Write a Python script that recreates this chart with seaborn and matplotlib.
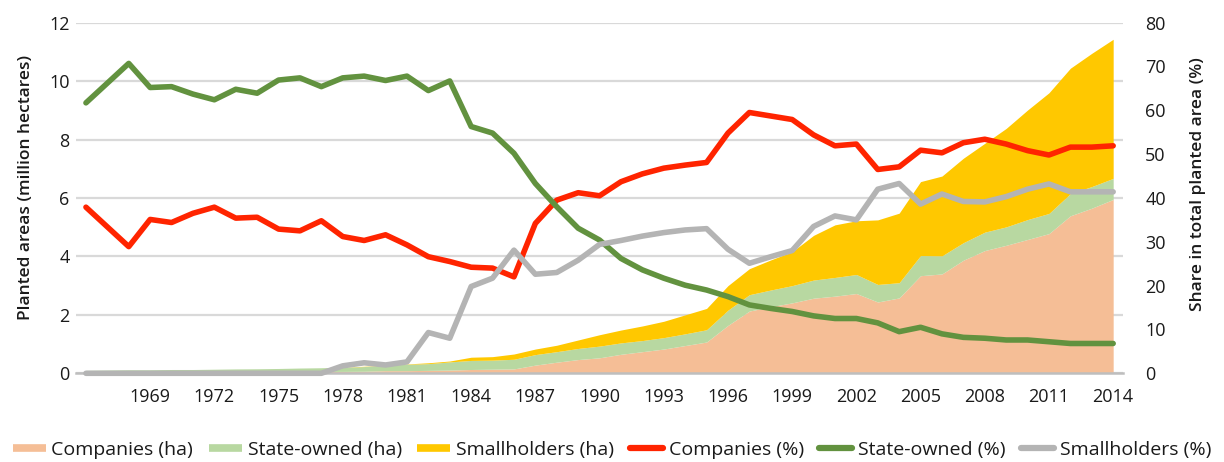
import matplotlib
matplotlib.use("Agg")
import pandas as pd
import matplotlib.pyplot as plt
import seaborn as sns
from matplotlib.lines import Line2D

# ---------------- data ----------------
years = list(range(1966, 2015))
tick_years = list(range(1969, 2015, 3))

companies_ha = [0.04, 0.04, 0.035, 0.04, 0.045, 0.05, 0.05, 0.05, 0.055, 0.055, 0.06, 0.065,
                0.065, 0.07, 0.09, 0.09, 0.10, 0.11, 0.13, 0.14, 0.15, 0.28, 0.38, 0.47,
                0.53, 0.65, 0.74, 0.83, 0.95, 1.07, 1.64, 2.13, 2.28, 2.41, 2.57, 2.64,
                2.73, 2.44, 2.58, 3.34, 3.40, 3.87, 4.20, 4.38, 4.58, 4.78, 5.39, 5.65, 5.95]
state_ha = [0.06, 0.07, 0.085, 0.08, 0.085, 0.08, 0.09, 0.10, 0.10, 0.11, 0.12, 0.125,
            0.14, 0.16, 0.19, 0.22, 0.23, 0.28, 0.31, 0.31, 0.33, 0.36, 0.36, 0.38,
            0.40, 0.39, 0.38, 0.39, 0.40, 0.42, 0.52, 0.56, 0.57, 0.59, 0.62, 0.64,
            0.65, 0.60, 0.52, 0.69, 0.62, 0.60, 0.63, 0.63, 0.68, 0.69, 0.76, 0.74, 0.72]
smallholders_ha = [0, 0, 0, 0, 0, 0, 0, 0, 0, 0, 0, 0,
                   0.005, 0.01, 0.006, 0.01, 0.03, 0.03, 0.11, 0.12, 0.18, 0.19, 0.22, 0.29,
                   0.39, 0.44, 0.50, 0.56, 0.65, 0.73, 0.84, 0.89, 1.03, 1.16, 1.53, 1.80,
                   1.84, 2.21, 2.38, 2.53, 2.73, 2.89, 3.04, 3.37, 3.75, 4.13, 4.29, 4.56, 4.76]

companies_pct = [37.9, 33.4, 28.9, 35.1, 34.4, 36.5, 37.9, 35.4, 35.6, 32.9, 32.5, 34.8,
                 31.2, 30.3, 31.6, 29.3, 26.6, 25.5, 24.2, 24.0, 22.0, 34.2, 39.5, 41.2,
                 40.5, 43.7, 45.5, 46.8, 47.5, 48.1, 54.8, 59.5, 58.7, 57.9, 54.4, 51.9,
                 52.3, 46.5, 47.1, 50.9, 50.3, 52.6, 53.4, 52.3, 50.8, 49.8, 51.6, 51.6, 51.9]
state_pct = [61.7, 66.2, 70.7, 65.2, 65.4, 63.7, 62.4, 64.8, 63.9, 66.9, 67.4, 65.4,
             67.4, 67.8, 66.8, 67.8, 64.5, 66.7, 56.3, 54.8, 50.2, 43.3, 38.0, 33.1,
             30.4, 26.2, 23.6, 21.7, 20.1, 19.0, 17.5, 15.6, 14.8, 14.1, 13.1, 12.5,
             12.5, 11.5, 9.5, 10.5, 9.0, 8.2, 8.0, 7.6, 7.6, 7.2, 6.8, 6.8, 6.8]
smallholders_pct = [0, 0, 0, 0, 0, 0, 0, 0, 0, 0, 0, 0,
                    1.7, 2.4, 1.9, 2.6, 9.3, 8.0, 19.8, 21.7, 28.1, 22.6, 23.0, 25.8,
                    29.4, 30.3, 31.3, 32.1, 32.7, 33.0, 28.3, 25.1, 26.6, 28.0, 33.5, 35.9,
                    35.0, 42.0, 43.3, 38.6, 40.9, 39.2, 39.1, 40.3, 42.0, 43.2, 41.4, 41.4, 41.4]

area_labels = ["Companies (ha)", "State-owned (ha)", "Smallholders (ha)"]
line_labels = ["Companies (%)", "State-owned (%)", "Smallholders (%)"]

# ---------------- style ----------------
area_colors = ["#F5BE96", "#B8D8A1", "#FFC800"]
line_colors = ["#FF2400", "#62923F", "#B4B4B4"]
text_color = "#1A1A1A"

sns.set_theme(style="white")
plt.rcParams['font.family'] = ['Open Sans', 'DejaVu Sans']
plt.rcParams['text.color'] = text_color
plt.rcParams['xtick.color'] = text_color
plt.rcParams['ytick.color'] = text_color

fig, ax1 = plt.subplots(figsize=(12.24, 4.62), dpi=100)
fig.subplots_adjust(left=0.062, right=0.9175, top=0.951, bottom=0.192)

# stacked areas (left axis)
ax1.stackplot(years, companies_ha, state_ha, smallholders_ha,
              colors=area_colors, linewidth=0, zorder=2)
ax1.set_ylim(0, 12)
ax1.set_yticks(range(0, 13, 2))
ax1.set_xlim(1965.53, 2014.46)
ax1.set_xticks(tick_years)
ax1.set_xticklabels([str(y) for y in tick_years])
ax1.grid(axis='y', color='#D9D9D9', linewidth=1.6)
ax1.grid(axis='x', visible=False)
ax1.set_axisbelow(True)
for s in ["left", "right", "top"]:
    ax1.spines[s].set_visible(False)
ax1.spines["bottom"].set_color("#BEBEBE")
ax1.spines["bottom"].set_linewidth(1.8)
ax1.tick_params(axis='y', length=0, pad=4.5, labelsize=13)
ax1.tick_params(axis='x', length=0, pad=10.5, labelsize=13)
ax1.set_xlabel("")
ax1.set_ylabel("Planted areas (million hectares)", fontsize=12.5,
               fontweight='semibold', color=text_color)
ax1.yaxis.set_label_coords(-0.040, 0.531)

# share lines (right axis)
ax2 = ax1.twinx()
df = pd.DataFrame({
    "year": years * 3,
    "share": companies_pct + state_pct + smallholders_pct,
    "series": [line_labels[0]] * len(years) + [line_labels[1]] * len(years)
              + [line_labels[2]] * len(years),
})
sns.lineplot(data=df, x="year", y="share", hue="series", hue_order=line_labels,
             palette=line_colors, linewidth=4.0, ax=ax2, legend=False,
             solid_capstyle='round', solid_joinstyle='round', clip_on=False)
ax2.set_ylim(0, 80)
ax2.set_yticks(range(0, 81, 10))
ax2.grid(False)
for s in ["left", "right", "top", "bottom"]:
    ax2.spines[s].set_visible(False)
ax2.tick_params(axis='y', length=0, pad=16, labelsize=13)
ax2.set_xlabel("")
ax2.set_ylabel("Share in total planted area (%)", fontsize=12.5,
               fontweight='semibold', color=text_color, rotation=90)
ax2.yaxis.set_label_coords(1.064, 0.541)
ax2.set_xlim(1965.53, 2014.46)

# legend
handles = [Line2D([], [], color=c, lw=5.5, solid_capstyle='butt') for c in area_colors]
handles += [Line2D([], [], color=c, lw=4.5, solid_capstyle='round') for c in line_colors]
fig.legend(handles, area_labels + line_labels, ncol=6, loc='center',
           bbox_to_anchor=(0.5, 0.026), frameon=False, fontsize=14,
           handlelength=1.7, handletextpad=0.3, columnspacing=0.8)

fig.savefig("out.png", dpi=100)
